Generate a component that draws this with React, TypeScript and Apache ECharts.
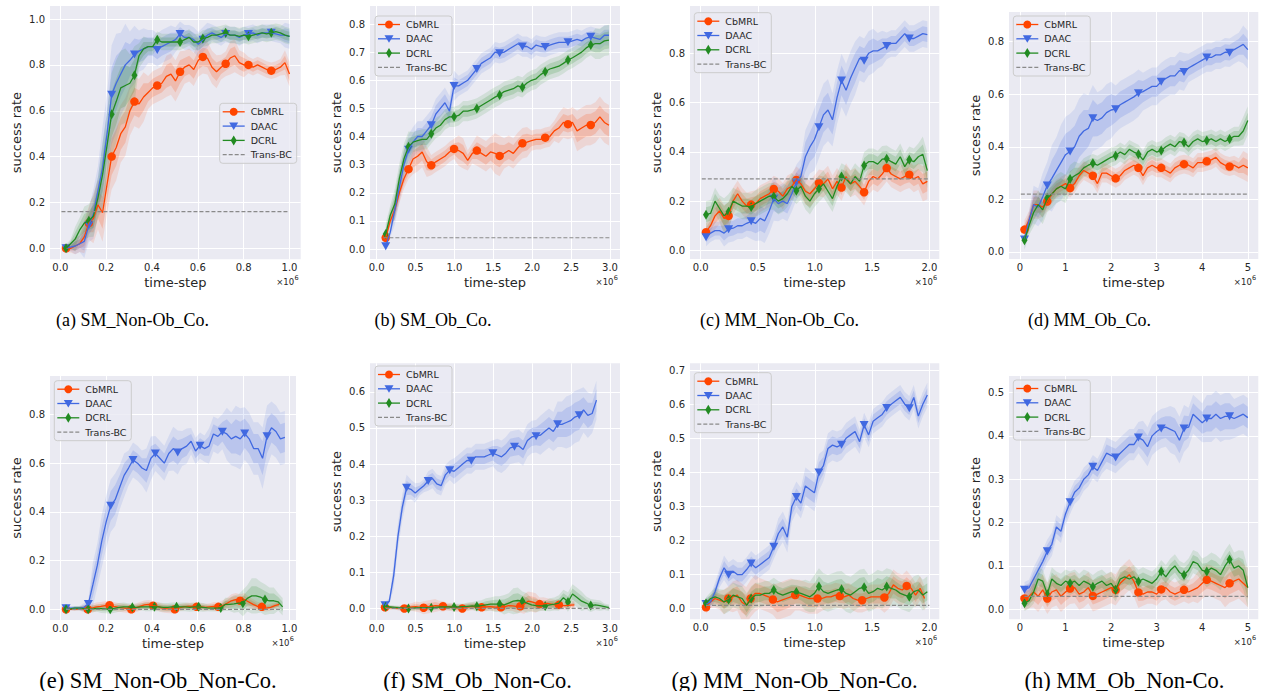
import React, { useEffect, useRef } from "react";
import * as echarts from "echarts";

const NAMES = ["CbMRL", "DAAC", "DCRL", "Trans-BC"];
const COLORS = ["#FF4500", "#4169E1", "#228B22", "#8A8A8A"];
const CAPTIONS = [
  "(a) SM_Non-Ob_Co.", "(b) SM_Ob_Co.", "(c) MM_Non-Ob_Co.", "(d) MM_Ob_Co.",
  "(e) SM_Non-Ob_Non-Co.", "(f) SM_Ob_Non-Co.", "(g) MM_Non-Ob_Non-Co.", "(h) MM_Ob_Non-Co.",
];

// ---------- tick labels ----------
const TICKS_X_1 = [0, 0.2, 0.4, 0.6, 0.8, 1.0];
const TICKS_X_3 = [0, 0.5, 1.0, 1.5, 2.0, 2.5, 3.0];
const TICKS_X_2 = [0, 0.5, 1.0, 1.5, 2.0];
const TICKS_X_5 = [0, 1, 2, 3, 4, 5];
const TICKS_Y_A = [0, 0.2, 0.4, 0.6, 0.8, 1.0];
const TICKS_Y_B = [0, 0.1, 0.2, 0.3, 0.4, 0.5, 0.6, 0.7, 0.8];
const TICKS_Y_C = [0, 0.2, 0.4, 0.6, 0.8];
const TICKS_Y_F = [0, 0.1, 0.2, 0.3, 0.4, 0.5, 0.6];
const TICKS_Y_G = [0, 0.1, 0.2, 0.3, 0.4, 0.5, 0.6, 0.7];
const TICKS_Y_H = [0, 0.1, 0.2, 0.3, 0.4, 0.5];

// ---------- (a) SM_Non-Ob_Co. ----------
const A_XSTART = [0.025, 0.025, 0.025];
const A_XSTEP = [0.0199, 0.0199, 0.0199];
const A_CBMRL = [0.00,0.00,0.01,0.02,0.05,0.11,0.13,0.19,0.155,0.28,0.40,0.44,0.50,0.53,0.60,0.64,0.63,0.66,0.68,0.70,0.71,0.72,0.75,0.76,0.73,0.77,0.79,0.80,0.78,0.82,0.835,0.83,0.79,0.77,0.79,0.805,0.83,0.84,0.81,0.80,0.80,0.79,0.80,0.79,0.78,0.775,0.78,0.79,0.81,0.76];
const A_CBMRL_SD = [0.01,0.02,0.04,0.06,0.07,0.08,0.07,0.06,0.06,0.04,0.04,0.05,0.05,0.04,0.04,0.04,0.04,0.03,0.04,0.03,0.02,0.02,0.02,0.02,0.03];
const A_DAAC = [0.00,0.005,0.01,0.02,0.03,0.10,0.15,0.25,0.35,0.50,0.67,0.72,0.76,0.80,0.82,0.845,0.86,0.87,0.88,0.88,0.865,0.88,0.89,0.90,0.91,0.935,0.92,0.92,0.91,0.89,0.91,0.93,0.94,0.93,0.92,0.935,0.93,0.93,0.92,0.93,0.935,0.94,0.93,0.94,0.94,0.94,0.935,0.93,0.93,0.925];
const A_DAAC_SD = [0.01,0.02,0.04,0.06,0.10,0.12,0.10,0.07,0.05,0.04,0.04,0.04,0.03,0.03,0.03,0.03,0.02,0.02,0.02,0.02,0.02,0.02,0.02,0.02,0.03];
const A_DCRL = [0.00,0.02,0.04,0.08,0.11,0.12,0.14,0.22,0.32,0.45,0.585,0.64,0.70,0.71,0.72,0.755,0.84,0.87,0.88,0.88,0.91,0.90,0.90,0.90,0.90,0.90,0.91,0.92,0.90,0.90,0.915,0.92,0.93,0.93,0.935,0.94,0.93,0.93,0.925,0.93,0.925,0.93,0.935,0.94,0.935,0.94,0.945,0.94,0.93,0.925];
const A_DCRL_SD = [0.01,0.03,0.04,0.05,0.08,0.10,0.09,0.07,0.03,0.02,0.02,0.02,0.02,0.02,0.02,0.02,0.02,0.02,0.02,0.02,0.02,0.02,0.02,0.02,0.02];
const A_BASE = 0.16;
const A_BASE_X = [0.005, 1.0];

// ---------- (b) SM_Ob_Co. ----------
const B_XSTART = [0.116, 0.116, 0.116];
const B_XSTEP = [0.0586, 0.0586, 0.0586];
const B_CBMRL = [0.04,0.10,0.14,0.20,0.25,0.284,0.32,0.33,0.345,0.31,0.298,0.31,0.32,0.33,0.345,0.356,0.35,0.34,0.315,0.34,0.35,0.34,0.33,0.345,0.34,0.331,0.34,0.35,0.34,0.36,0.376,0.38,0.385,0.39,0.39,0.396,0.40,0.42,0.43,0.45,0.444,0.45,0.42,0.43,0.44,0.441,0.45,0.47,0.45,0.44];
const B_CBMRL_SD = [0.01,0.02,0.02,0.03,0.03,0.02,0.02,0.02,0.03,0.02,0.03,0.03,0.04,0.03,0.03,0.03,0.02,0.02,0.02,0.03,0.03,0.04,0.04,0.04,0.04];
const B_DAAC = [0.01,0.06,0.14,0.22,0.30,0.353,0.38,0.40,0.40,0.42,0.44,0.48,0.50,0.52,0.49,0.58,0.58,0.59,0.60,0.62,0.64,0.66,0.67,0.68,0.70,0.696,0.70,0.71,0.72,0.73,0.72,0.72,0.71,0.725,0.72,0.718,0.725,0.73,0.735,0.735,0.735,0.74,0.745,0.74,0.75,0.755,0.75,0.745,0.76,0.76];
const B_DAAC_SD = [0.01,0.03,0.03,0.03,0.03,0.03,0.03,0.03,0.02,0.02,0.02,0.02,0.02,0.02,0.02,0.02,0.02,0.02,0.02,0.02,0.02,0.02,0.02,0.02,0.02];
const B_DCRL = [0.053,0.12,0.16,0.25,0.32,0.364,0.38,0.385,0.39,0.39,0.41,0.43,0.44,0.46,0.47,0.47,0.475,0.49,0.49,0.495,0.50,0.51,0.52,0.53,0.54,0.548,0.56,0.565,0.57,0.58,0.575,0.59,0.60,0.605,0.62,0.63,0.64,0.645,0.65,0.66,0.672,0.68,0.69,0.70,0.715,0.725,0.73,0.73,0.74,0.743];
const B_DCRL_SD = [0.02,0.03,0.03,0.02,0.02,0.02,0.02,0.02,0.02,0.02,0.02,0.02,0.02,0.02,0.02,0.02,0.02,0.02,0.02,0.02,0.02,0.02,0.02,0.03,0.03];
const B_BASE = 0.04;
const B_BASE_X = [0.086, 3.0];

// ---------- (c) MM_Non-Ob_Co. ----------
const C_XSTART = [0.047, 0.047, 0.047];
const C_XSTEP = [0.0395, 0.0395, 0.0395];
const C_CBMRL = [0.074,0.10,0.14,0.16,0.13,0.14,0.20,0.23,0.20,0.18,0.186,0.19,0.21,0.22,0.23,0.249,0.24,0.22,0.25,0.26,0.286,0.27,0.24,0.23,0.25,0.274,0.27,0.29,0.25,0.28,0.255,0.30,0.27,0.28,0.26,0.236,0.28,0.30,0.29,0.31,0.334,0.31,0.30,0.29,0.30,0.307,0.29,0.30,0.27,0.28];
const C_CBMRL_SD = [0.02,0.03,0.03,0.03,0.03,0.03,0.03,0.03,0.03,0.03,0.03,0.03,0.03,0.03,0.03,0.03,0.03,0.03,0.03,0.03,0.03,0.03,0.03,0.03,0.04];
const C_DAAC = [0.053,0.07,0.08,0.08,0.07,0.086,0.09,0.10,0.10,0.11,0.118,0.11,0.13,0.12,0.16,0.21,0.19,0.20,0.19,0.23,0.276,0.30,0.38,0.42,0.45,0.50,0.55,0.57,0.53,0.62,0.69,0.65,0.70,0.74,0.78,0.77,0.80,0.81,0.81,0.82,0.83,0.84,0.84,0.86,0.88,0.86,0.86,0.87,0.88,0.876];
const C_DAAC_SD = [0.02,0.02,0.03,0.03,0.03,0.04,0.05,0.05,0.04,0.04,0.04,0.06,0.07,0.07,0.06,0.06,0.06,0.05,0.05,0.04,0.03,0.03,0.03,0.03,0.03];
const C_DCRL = [0.145,0.15,0.20,0.17,0.14,0.157,0.20,0.19,0.18,0.18,0.176,0.19,0.20,0.21,0.22,0.219,0.20,0.21,0.23,0.26,0.242,0.26,0.22,0.20,0.23,0.25,0.27,0.24,0.21,0.26,0.30,0.29,0.27,0.30,0.28,0.345,0.36,0.36,0.35,0.37,0.372,0.36,0.35,0.38,0.34,0.368,0.36,0.38,0.39,0.324];
const C_DCRL_SD = [0.03,0.03,0.04,0.03,0.03,0.03,0.03,0.03,0.03,0.03,0.03,0.03,0.03,0.03,0.03,0.03,0.03,0.03,0.03,0.03,0.03,0.03,0.03,0.03,0.04];
const C_BASE = 0.29;
const C_BASE_X = [0.01, 2.0];

// ---------- (d) MM_Ob_Co. ----------
const D_XSTART = [0.1, 0.1, 0.1];
const D_XSTEP = [0.1, 0.1, 0.1];
const D_CBMRL = [0.085,0.12,0.18,0.18,0.17,0.192,0.22,0.24,0.25,0.26,0.243,0.26,0.29,0.31,0.30,0.29,0.26,0.30,0.30,0.29,0.28,0.29,0.31,0.32,0.33,0.32,0.29,0.32,0.33,0.32,0.32,0.31,0.30,0.32,0.33,0.334,0.33,0.32,0.34,0.34,0.345,0.35,0.36,0.34,0.33,0.325,0.33,0.32,0.33,0.32];
const D_CBMRL_SD = [0.02,0.03,0.02,0.02,0.02,0.02,0.02,0.02,0.02,0.02,0.02,0.02,0.02,0.02,0.02,0.02,0.02,0.02,0.02,0.02,0.02,0.02,0.02,0.02,0.03];
const D_DAAC = [0.047,0.12,0.18,0.17,0.21,0.253,0.28,0.31,0.34,0.37,0.382,0.40,0.44,0.46,0.47,0.509,0.50,0.51,0.53,0.54,0.543,0.56,0.57,0.58,0.59,0.604,0.61,0.62,0.63,0.63,0.648,0.66,0.67,0.67,0.69,0.685,0.70,0.71,0.72,0.73,0.74,0.74,0.75,0.75,0.76,0.758,0.77,0.78,0.79,0.77];
const D_DAAC_SD = [0.02,0.04,0.05,0.07,0.08,0.08,0.08,0.07,0.06,0.06,0.05,0.05,0.05,0.04,0.04,0.04,0.04,0.04,0.03,0.03,0.03,0.03,0.03,0.03,0.04];
const D_DCRL = [0.044,0.10,0.15,0.18,0.16,0.205,0.22,0.24,0.25,0.24,0.277,0.29,0.30,0.32,0.33,0.337,0.33,0.34,0.35,0.36,0.366,0.38,0.37,0.39,0.38,0.372,0.35,0.38,0.39,0.38,0.386,0.40,0.41,0.40,0.42,0.416,0.40,0.42,0.43,0.42,0.424,0.43,0.42,0.43,0.42,0.43,0.44,0.44,0.46,0.50];
const D_DCRL_SD = [0.02,0.03,0.03,0.03,0.03,0.03,0.02,0.02,0.02,0.02,0.02,0.02,0.02,0.02,0.02,0.02,0.02,0.02,0.02,0.02,0.02,0.02,0.02,0.02,0.03];
const D_BASE = 0.22;
const D_BASE_X = [0.02, 5.0];

// ---------- (e) SM_Non-Ob_Non-Co. ----------
const E_XSTART = [0.025, 0.025, 0.025];
const E_XSTEP = [0.019, 0.0195, 0.0193];
const E_CBMRL = [0.0,0.0,0.0,0.002,0.003,0.0,0.005,0.01,0.012,0.015,0.017,0.012,0.008,0.006,0.004,0.0,0.006,0.012,0.018,0.02,0.015,0.012,0.006,0.003,0.002,0.0,0.006,0.01,0.012,0.012,0.01,0.01,0.008,0.01,0.012,0.01,0.015,0.025,0.035,0.04,0.035,0.04,0.03,0.02,0.012,0.01,0.005,0.008,0.015,0.02];
const E_CBMRL_SD = [0.003,0.004,0.008,0.01,0.01,0.01,0.01,0.01,0.01,0.01,0.01,0.01,0.01,0.008,0.008,0.008,0.008,0.01,0.012,0.015,0.015,0.012,0.01,0.008,0.008];
const E_DAAC = [0.004,0.005,0.005,0.005,0.008,0.022,0.10,0.18,0.28,0.36,0.425,0.45,0.50,0.55,0.58,0.613,0.60,0.58,0.57,0.62,0.64,0.62,0.60,0.64,0.66,0.644,0.66,0.67,0.69,0.65,0.672,0.66,0.67,0.72,0.71,0.729,0.72,0.70,0.71,0.70,0.722,0.70,0.66,0.66,0.62,0.711,0.745,0.73,0.70,0.706];
const E_DAAC_SD = [0.005,0.005,0.01,0.05,0.06,0.06,0.05,0.04,0.04,0.05,0.04,0.04,0.05,0.04,0.03,0.03,0.04,0.04,0.06,0.07,0.06,0.06,0.07,0.06,0.06];
const E_DCRL = [0.0,0.002,0.005,0.005,0.003,0.0,0.002,0.004,0.003,0.002,0.0,0.004,0.008,0.01,0.01,0.008,0.008,0.01,0.01,0.01,0.01,0.01,0.008,0.008,0.01,0.01,0.01,0.01,0.008,0.01,0.01,0.008,0.006,0.005,0.005,0.005,0.02,0.02,0.022,0.025,0.025,0.045,0.055,0.055,0.05,0.04,0.035,0.035,0.03,0.01];
const E_DCRL_SD = [0.003,0.005,0.006,0.008,0.01,0.01,0.01,0.008,0.008,0.01,0.01,0.01,0.01,0.01,0.01,0.01,0.008,0.008,0.015,0.02,0.03,0.04,0.035,0.03,0.02];
const E_BASE = 0.0;
const E_BASE_X = [0.025, 0.97];

// ---------- (f) SM_Ob_Non-Co. ----------
const F_XSTART = [0.107, 0.107, 0.116];
const F_XSTEP = [0.0497, 0.0555, 0.0586];
const F_CBMRL = [0.003,0.002,0.002,0.001,0.0,0.0,0.002,0.004,0.005,0.003,0.002,0.004,0.006,0.008,0.007,0.006,0.005,0.004,0.002,0.001,0.0,0.003,0.005,0.006,0.004,0.003,0.004,0.005,0.004,0.003,0.003,0.005,0.008,0.007,0.006,0.006,0.012,0.02,0.018,0.015,0.012,0.013,0.014,0.012,0.01,0.01,0.008,0.008,0.009,0.01];
const F_CBMRL_SD = [0.003,0.003,0.004,0.006,0.008,0.01,0.01,0.008,0.006,0.006,0.006,0.006,0.006,0.006,0.006,0.006,0.008,0.01,0.015,0.015,0.01,0.008,0.008,0.006,0.006];
const F_DAAC = [0.009,0.02,0.09,0.20,0.28,0.334,0.33,0.32,0.33,0.34,0.353,0.36,0.345,0.34,0.37,0.383,0.38,0.39,0.40,0.41,0.409,0.42,0.42,0.42,0.425,0.43,0.425,0.42,0.43,0.445,0.448,0.45,0.44,0.465,0.475,0.477,0.48,0.49,0.50,0.49,0.51,0.51,0.515,0.52,0.53,0.535,0.55,0.535,0.54,0.577];
const F_DAAC_SD = [0.005,0.02,0.02,0.015,0.01,0.015,0.015,0.015,0.02,0.02,0.02,0.02,0.02,0.025,0.025,0.025,0.025,0.025,0.03,0.03,0.035,0.04,0.04,0.035,0.03];
const F_DCRL = [0.005,0.004,0.003,0.002,0.001,0.0,0.001,0.002,0.002,0.002,0.002,0.003,0.004,0.004,0.004,0.004,0.004,0.005,0.006,0.007,0.006,0.008,0.01,0.012,0.012,0.012,0.01,0.015,0.02,0.022,0.02,0.015,0.01,0.008,0.007,0.007,0.01,0.012,0.015,0.03,0.018,0.04,0.03,0.02,0.015,0.008,0.01,0.008,0.005,0.002];
const F_DCRL_SD = [0.003,0.003,0.003,0.004,0.004,0.004,0.004,0.005,0.005,0.006,0.008,0.01,0.012,0.015,0.02,0.015,0.01,0.008,0.01,0.012,0.015,0.015,0.01,0.008,0.005];
const F_BASE = 0.0;
const F_BASE_X = [0.116, 3.0];

// ---------- (g) MM_Non-Ob_Non-Co. ----------
const G_XSTART = [0.047, 0.047, 0.047];
const G_XSTEP = [0.039, 0.0395, 0.0395];
const G_CBMRL = [0.004,0.02,0.03,0.025,0.02,0.03,0.035,0.04,0.02,0.01,0.03,0.045,0.045,0.04,0.035,0.027,0.02,0.025,0.03,0.035,0.04,0.04,0.035,0.03,0.03,0.03,0.03,0.035,0.035,0.04,0.037,0.035,0.04,0.03,0.025,0.025,0.03,0.035,0.035,0.035,0.033,0.045,0.07,0.06,0.055,0.067,0.06,0.04,0.06,0.03];
const G_CBMRL_SD = [0.01,0.015,0.02,0.025,0.03,0.03,0.025,0.025,0.03,0.03,0.025,0.025,0.025,0.02,0.02,0.02,0.02,0.02,0.02,0.02,0.025,0.025,0.025,0.02,0.02];
const G_DAAC = [0.014,0.02,0.05,0.09,0.12,0.10,0.11,0.10,0.10,0.115,0.133,0.12,0.13,0.14,0.15,0.182,0.22,0.24,0.21,0.30,0.328,0.31,0.36,0.35,0.34,0.40,0.42,0.47,0.48,0.475,0.481,0.50,0.51,0.52,0.49,0.539,0.51,0.55,0.56,0.57,0.589,0.60,0.61,0.62,0.60,0.588,0.62,0.565,0.60,0.627];
const G_DAAC_SD = [0.01,0.015,0.02,0.02,0.02,0.02,0.02,0.02,0.025,0.025,0.025,0.03,0.03,0.025,0.025,0.025,0.025,0.02,0.02,0.02,0.02,0.02,0.02,0.02,0.02];
const G_DCRL = [0.016,0.03,0.035,0.03,0.02,0.027,0.04,0.035,0.03,0.01,0.03,0.04,0.04,0.045,0.045,0.055,0.045,0.04,0.045,0.05,0.049,0.045,0.04,0.035,0.045,0.065,0.05,0.045,0.05,0.055,0.057,0.045,0.04,0.05,0.06,0.063,0.045,0.05,0.06,0.055,0.065,0.06,0.055,0.045,0.04,0.035,0.05,0.055,0.04,0.05];
const G_DCRL_SD = [0.01,0.015,0.02,0.02,0.02,0.02,0.02,0.02,0.02,0.02,0.02,0.025,0.03,0.03,0.03,0.03,0.03,0.03,0.03,0.03,0.03,0.025,0.025,0.025,0.025];
const G_BASE = 0.01;
const G_BASE_X = [0.047, 2.0];

// ---------- (h) MM_Ob_Non-Co. ----------
const H_XSTART = [0.1, 0.1, 0.1];
const H_XSTEP = [0.1, 0.1, 0.1];
const H_CBMRL = [0.025,0.03,0.04,0.03,0.045,0.025,0.04,0.045,0.03,0.04,0.048,0.05,0.035,0.04,0.05,0.031,0.035,0.04,0.045,0.05,0.045,0.06,0.07,0.08,0.065,0.039,0.035,0.04,0.04,0.035,0.046,0.05,0.04,0.035,0.04,0.045,0.04,0.045,0.05,0.06,0.068,0.065,0.06,0.055,0.05,0.06,0.065,0.07,0.06,0.05];
const H_CBMRL_SD = [0.015,0.02,0.02,0.02,0.02,0.02,0.02,0.02,0.02,0.02,0.02,0.02,0.02,0.015,0.015,0.015,0.015,0.015,0.015,0.02,0.02,0.02,0.025,0.025,0.025];
const H_DAAC = [0.045,0.05,0.07,0.09,0.11,0.134,0.15,0.19,0.18,0.22,0.247,0.27,0.28,0.30,0.31,0.329,0.32,0.34,0.36,0.355,0.35,0.36,0.37,0.38,0.38,0.396,0.39,0.375,0.40,0.41,0.417,0.42,0.415,0.41,0.39,0.417,0.42,0.45,0.44,0.43,0.44,0.44,0.45,0.44,0.445,0.445,0.44,0.445,0.45,0.442];
const H_DAAC_SD = [0.01,0.015,0.015,0.015,0.015,0.015,0.015,0.015,0.015,0.02,0.02,0.02,0.02,0.025,0.025,0.025,0.03,0.03,0.025,0.025,0.03,0.03,0.03,0.025,0.025];
const H_DCRL = [0.014,0.02,0.04,0.07,0.065,0.035,0.07,0.06,0.055,0.065,0.06,0.065,0.055,0.065,0.06,0.052,0.06,0.065,0.055,0.06,0.045,0.07,0.075,0.07,0.075,0.064,0.07,0.065,0.06,0.07,0.087,0.075,0.09,0.10,0.085,0.079,0.09,0.11,0.105,0.09,0.087,0.095,0.09,0.08,0.10,0.115,0.095,0.10,0.09,0.05];
const H_DCRL_SD = [0.01,0.015,0.015,0.015,0.015,0.015,0.015,0.015,0.015,0.015,0.015,0.015,0.015,0.015,0.015,0.015,0.015,0.015,0.015,0.015,0.02,0.02,0.02,0.02,0.025];
const H_BASE = 0.03;
const H_BASE_X = [0.1, 5.0];

type Panel = {
  caption: string;
  starts: number[];
  steps: number[];
  means: number[][];
  sds: number[][];
  base: number;
  baseX: number[];
  xTicks: number[];
  yTicks: number[];
  xDec: number;
  xRange: number[];
  yRange: number[];
};

const PANELS: Panel[] = [
  { caption: CAPTIONS[0], starts: A_XSTART, steps: A_XSTEP, means: [A_CBMRL, A_DAAC, A_DCRL], sds: [A_CBMRL_SD, A_DAAC_SD, A_DCRL_SD], base: A_BASE, baseX: A_BASE_X, xTicks: TICKS_X_1, yTicks: TICKS_Y_A, xDec: 1, xRange: [-0.045, 1.049], yRange: [-0.048, 1.057] },
  { caption: CAPTIONS[1], starts: B_XSTART, steps: B_XSTEP, means: [B_CBMRL, B_DAAC, B_DCRL], sds: [B_CBMRL_SD, B_DAAC_SD, B_DCRL_SD], base: B_BASE, baseX: B_BASE_X, xTicks: TICKS_X_3, yTicks: TICKS_Y_B, xDec: 1, xRange: [-0.086, 3.129], yRange: [-0.0355, 0.864] },
  { caption: CAPTIONS[2], starts: C_XSTART, steps: C_XSTEP, means: [C_CBMRL, C_DAAC, C_DCRL], sds: [C_CBMRL_SD, C_DAAC_SD, C_DCRL_SD], base: C_BASE, baseX: C_BASE_X, xTicks: TICKS_X_2, yTicks: TICKS_Y_C, xDec: 1, xRange: [-0.093, 2.087], yRange: [-0.035, 0.992] },
  { caption: CAPTIONS[3], starts: D_XSTART, steps: D_XSTEP, means: [D_CBMRL, D_DAAC, D_DCRL], sds: [D_CBMRL_SD, D_DAAC_SD, D_DCRL_SD], base: D_BASE, baseX: D_BASE_X, xTicks: TICKS_X_5, yTicks: TICKS_Y_C, xDec: 0, xRange: [-0.24, 5.23], yRange: [-0.027, 0.913] },
  { caption: CAPTIONS[4], starts: E_XSTART, steps: E_XSTEP, means: [E_CBMRL, E_DAAC, E_DCRL], sds: [E_CBMRL_SD, E_DAAC_SD, E_DCRL_SD], base: E_BASE, baseX: E_BASE_X, xTicks: TICKS_X_1, yTicks: TICKS_Y_C, xDec: 1, xRange: [-0.045, 1.029], yRange: [-0.044, 0.958] },
  { caption: CAPTIONS[5], starts: F_XSTART, steps: F_XSTEP, means: [F_CBMRL, F_DAAC, F_DCRL], sds: [F_CBMRL_SD, F_DAAC_SD, F_DCRL_SD], base: F_BASE, baseX: F_BASE_X, xTicks: TICKS_X_3, yTicks: TICKS_Y_F, xDec: 1, xRange: [-0.086, 3.129], yRange: [-0.032, 0.679] },
  { caption: CAPTIONS[6], starts: G_XSTART, steps: G_XSTEP, means: [G_CBMRL, G_DAAC, G_DCRL], sds: [G_CBMRL_SD, G_DAAC_SD, G_DCRL_SD], base: G_BASE, baseX: G_BASE_X, xTicks: TICKS_X_2, yTicks: TICKS_Y_G, xDec: 1, xRange: [-0.093, 2.087], yRange: [-0.031, 0.72] },
  { caption: CAPTIONS[7], starts: H_XSTART, steps: H_XSTEP, means: [H_CBMRL, H_DAAC, H_DCRL], sds: [H_CBMRL_SD, H_DAAC_SD, H_DCRL_SD], base: H_BASE, baseX: H_BASE_X, xTicks: TICKS_X_5, yTicks: TICKS_Y_H, xDec: 0, xRange: [-0.24, 5.23], yRange: [-0.023, 0.538] },
];

// ---------- layout (pixels) ----------
const LAYOUT = [
  { left: 50, top: 6, width: 250.7, height: 253.3, legend: [219.7, 103.3], cap: [132.5, 320], capSize: 18 },
  { left: 370, top: 6, width: 250, height: 253, legend: [375, 16], cap: [433, 320], capSize: 18 },
  { left: 690, top: 6, width: 249.3, height: 253, legend: [694.3, 12.7], cap: [779.5, 320], capSize: 18 },
  { left: 1009, top: 12, width: 249.3, height: 247, legend: [1013.3, 16], cap: [1089.5, 320], capSize: 18 },
  { left: 50, top: 376, width: 246, height: 244, legend: [54.3, 380.7], cap: [158, 680], capSize: 22.5 },
  { left: 370, top: 363.3, width: 250, height: 256.7, legend: [375, 366], cap: [477.5, 680], capSize: 22.5 },
  { left: 690, top: 363.3, width: 249.3, height: 256, legend: [694.3, 372.7], cap: [794.5, 680], capSize: 22.5 },
  { left: 1009, top: 376, width: 249.3, height: 243.3, legend: [1013.3, 380], cap: [1124.5, 680], capSize: 22.5 },
];

const FONT = "DejaVu Sans";
const TEXT = "#262626";

function rgba(hex: string, a: number) {
  const n = parseInt(hex.slice(1), 16);
  return `rgba(${(n >> 16) & 255},${(n >> 8) & 255},${n & 255},${a})`;
}

function band(k: number, xs: number[], lo: number[], hi: number[], fill: string) {
  return {
    type: "custom",
    xAxisIndex: k,
    yAxisIndex: k,
    silent: true,
    clip: true,
    data: [[xs[0], lo[0]]],
    renderItem: (params: any, api: any) => {
      if (params.dataIndex !== 0) return null;
      const pts: number[][] = [];
      for (let i = 0; i < xs.length; i++) pts.push(api.coord([xs[i], hi[i]]));
      for (let i = xs.length - 1; i >= 0; i--) pts.push(api.coord([xs[i], lo[i]]));
      return { type: "polygon", shape: { points: pts }, style: { fill, stroke: null }, silent: true };
    },
  };
}

const SYMBOLS = ["circle", "triangle", "diamond"];
const SYMSIZE: any[] = [8.5, [9, 8], [6, 10]];

function legendEls(x: number, y: number) {
  const els: any[] = [];
  els.push({ type: "rect", z: 100, shape: { x, y, width: 77, height: 60, r: 3 }, style: { fill: "rgba(234,234,242,0.8)", stroke: "#CCCCCC", lineWidth: 1 } });
  const rows = [8.5, 22.8, 37.1, 51.4];
  rows.forEach((dy, s) => {
    const cy = y + dy;
    const cx = x + 14;
    els.push({ type: "line", z: 101, shape: { x1: x + 3, y1: cy, x2: x + 25, y2: cy }, style: { stroke: COLORS[s], lineWidth: 1.3, lineDash: s === 3 ? [4, 2] : null } });
    if (s === 0) els.push({ type: "circle", z: 102, shape: { cx, cy, r: 4 }, style: { fill: COLORS[s] } });
    if (s === 1) els.push({ type: "polygon", z: 102, shape: { points: [[cx - 4.5, cy - 3.5], [cx + 4.5, cy - 3.5], [cx, cy + 4]] }, style: { fill: COLORS[s] } });
    if (s === 2) els.push({ type: "polygon", z: 102, shape: { points: [[cx, cy - 5], [cx + 3, cy], [cx, cy + 5], [cx - 3, cy]] }, style: { fill: COLORS[s] } });
    els.push({ type: "text", z: 102, x: x + 31, y: cy, style: { text: NAMES[s], fill: TEXT, font: `9.5px "${FONT}"`, verticalAlign: "middle", align: "left" } });
  });
  return els;
}

function buildOption() {
  const grid: any[] = [];
  const xAxis: any[] = [];
  const yAxis: any[] = [];
  const series: any[] = [];
  const graphic: any[] = [];
  PANELS.forEach((p, k) => {
    const L = LAYOUT[k];
    grid.push({ left: L.left, top: L.top, width: L.width, height: L.height, show: true, backgroundColor: "#EAEAF2", borderWidth: 0 });
    xAxis.push({
      type: "value", gridIndex: k, min: p.xRange[0], max: p.xRange[1],
      axisLine: { show: false },
      axisTick: { show: false, customValues: p.xTicks },
      axisLabel: { customValues: p.xTicks, formatter: (v: number) => v.toFixed(p.xDec), color: TEXT, fontSize: 10, fontFamily: FONT, margin: 3.5 },
      splitLine: { show: true, lineStyle: { color: "#FFFFFF", width: 1 } },
      name: "time-step", nameLocation: "middle", nameGap: 17,
      nameTextStyle: { color: TEXT, fontSize: 13, fontFamily: FONT },
    });
    yAxis.push({
      type: "value", gridIndex: k, min: p.yRange[0], max: p.yRange[1],
      axisLine: { show: false },
      axisTick: { show: false, customValues: p.yTicks },
      axisLabel: { customValues: p.yTicks, formatter: (v: number) => v.toFixed(1), color: TEXT, fontSize: 10, fontFamily: FONT, margin: 5 },
      splitLine: { show: true, lineStyle: { color: "#FFFFFF", width: 1 } },
      name: "success rate", nameLocation: "middle", nameGap: 27,
      nameTextStyle: { color: TEXT, fontSize: 13, fontFamily: FONT },
    });
    for (let s = 0; s < 3; s++) {
      const m = p.means[s];
      const sd = p.sds[s];
      const xs = m.map((_, i) => p.starts[s] + p.steps[s] * i);
      const sdAt = (i: number) => sd[Math.min(sd.length - 1, Math.floor(i / 2))];
      const lo1 = m.map((v, i) => v - sdAt(i));
      const hi1 = m.map((v, i) => v + sdAt(i));
      const lo2 = m.map((v, i) => v - 1.8 * sdAt(i));
      const hi2 = m.map((v, i) => v + 1.8 * sdAt(i));
      series.push(band(k, xs, lo2, hi2, rgba(COLORS[s], 0.12)));
      series.push(band(k, xs, lo1, hi1, rgba(COLORS[s], 0.18)));
      series.push({
        type: "line", name: NAMES[s], xAxisIndex: k, yAxisIndex: k, silent: true,
        data: xs.map((x, i) => [x, m[i]]), showSymbol: false, symbol: "none",
        lineStyle: { color: COLORS[s], width: 1.3 }, itemStyle: { color: COLORS[s] },
      });
      series.push({
        type: "scatter", xAxisIndex: k, yAxisIndex: k, silent: true,
        data: xs.map((x, i) => [x, m[i]]).filter((_, i) => i % 5 === 0),
        symbol: SYMBOLS[s], symbolSize: SYMSIZE[s], symbolRotate: s === 1 ? 180 : 0,
        itemStyle: { color: COLORS[s], opacity: 1 },
      });
    }
    series.push({
      type: "line", name: NAMES[3], xAxisIndex: k, yAxisIndex: k, silent: true,
      data: [[p.baseX[0], p.base], [p.baseX[1], p.base]], showSymbol: false, symbol: "none",
      lineStyle: { color: COLORS[3], width: 1.2, type: [4, 2] },
    });
    graphic.push(...legendEls(L.legend[0], L.legend[1]));
    const right = L.left + L.width;
    const bottom = L.top + L.height;
    graphic.push({ type: "text", z: 100, x: right - 6.5, y: bottom + 22.5, style: { text: "×10", fill: TEXT, font: `8.5px "${FONT}"`, align: "right", verticalAlign: "middle" } });
    graphic.push({ type: "text", z: 100, x: right - 6.3, y: bottom + 19, style: { text: "6", fill: TEXT, font: `6.5px "${FONT}"`, align: "left", verticalAlign: "middle" } });
    graphic.push({ type: "text", z: 100, x: L.cap[0], y: L.cap[1], style: { text: p.caption, fill: "#000000", font: `${L.capSize}px "Liberation Serif"`, align: "center", verticalAlign: "middle" } });
  });
  return { animation: false, backgroundColor: "#FFFFFF", grid, xAxis, yAxis, series, graphic };
}

export default function App() {
  const ref = useRef<HTMLDivElement>(null);
  useEffect(() => {
    if (!ref.current) return;
    const chart = echarts.init(ref.current, null, { renderer: "svg" });
    chart.setOption(buildOption() as any);
    return () => chart.dispose();
  }, []);
  return <div ref={ref} style={{ position: "fixed", left: 0, top: 0, width: 1262, height: 691 }} />;
}
